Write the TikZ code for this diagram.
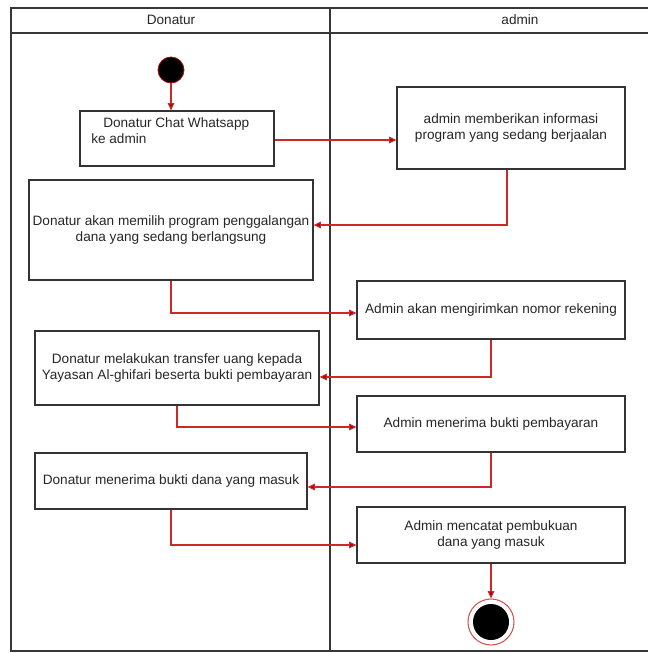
\documentclass[tikz,border=0pt]{standalone}
\usepackage{fontspec}
\setmainfont{Liberation Sans}
\usetikzlibrary{arrows.meta}
\definecolor{arrred}{RGB}{205,40,40}
\definecolor{tipred}{RGB}{180,0,0}
\definecolor{framegray}{RGB}{55,55,55}
\begin{document}
\begin{tikzpicture}[x=0.75pt,y=-0.75pt,
  every node/.style={font=\fontsize{10.2}{12}\selectfont, text=black!85},
  actbox/.style={draw=black!80, line width=0.9pt, rectangle, align=center, inner sep=0pt},
  flow/.style={draw=arrred, line width=0.8pt, -{Triangle[width=5pt,length=5.5pt,fill=tipred]}},
  lane/.style={draw=framegray, line width=1.1pt}]
\useasboundingbox (0,0) rectangle (648,653);
% swimlane frame
\draw[lane] (648,8) -- (11,8) -- (11,651) -- (648,651);
\draw[lane] (11,33) -- (648,33);
\draw[lane] (330,8) -- (330,651);
\node (hdon) at (171,20) {Donatur};
\node (hadm) at (520,20) {admin};
% start
\node[circle, fill=black, draw=tipred, line width=0.6pt, minimum size=19.5pt, inner sep=0pt] (start) at (171,70) {};
% activities
\node[actbox, minimum width=145.5pt, minimum height=41.25pt] (b1) at (177,138.5) {};
\node[anchor=north west, align=left, inner sep=0pt] (b1t) at (91,117) {\hspace*{9pt}Donatur Chat Whatsapp\\ke admin};
\node[actbox, minimum width=171pt, minimum height=61.5pt] (b2) at (511,128) {admin memberikan informasi\\program yang sedang berjaalan};
\node[actbox, minimum width=213pt, minimum height=75pt] (b3) at (171,230) {Donatur akan memilih program penggalangan\\dana yang sedang berlangsung};
\node[actbox, minimum width=201pt, minimum height=43.5pt] (b4) at (491,310) {Admin akan mengirimkan nomor rekening};
\node[actbox, minimum width=213pt, minimum height=55.5pt] (b5) at (177,368) {Donatur melakukan transfer uang kepada\\Yayasan Al-ghifari beserta bukti pembayaran};
\node[actbox, minimum width=201pt, minimum height=42pt] (b6) at (491,424) {Admin menerima bukti pembayaran};
\node[actbox, minimum width=204pt, minimum height=42pt] (b7) at (171,481) {Donatur menerima bukti dana yang masuk};
\node[actbox, minimum width=201pt, minimum height=42pt] (b8) at (491,535) {Admin mencatat pembukuan\\dana yang masuk};
% end
\node[circle, draw=arrred!80, line width=0.8pt, minimum size=34.5pt, inner sep=0pt] (endo) at (491,622) {};
\node[circle, fill=black, minimum size=27pt, inner sep=0pt] (endi) at (491,622) {};
% flows
\draw[flow] (start) -- (b1.north -| start);
\draw[flow] (b1.east |- 0,140) -- (b2.west |- 0,140);
\draw[flow] (b2.south -| 507,0) |- (b3.east |- 0,225);
\draw[flow] (b3.south) |- (b4.west |- 0,313);
\draw[flow] (b4.south) |- (b5.east |- 0,377);
\draw[flow] (b5.south) |- (b6.west |- 0,427);
\draw[flow] (b6.south) |- (b7.east |- 0,487);
\draw[flow] (b7.south) |- (b8.west |- 0,545);
\draw[flow] (b8.south) -- (endo.north);
\end{tikzpicture}
\end{document}
